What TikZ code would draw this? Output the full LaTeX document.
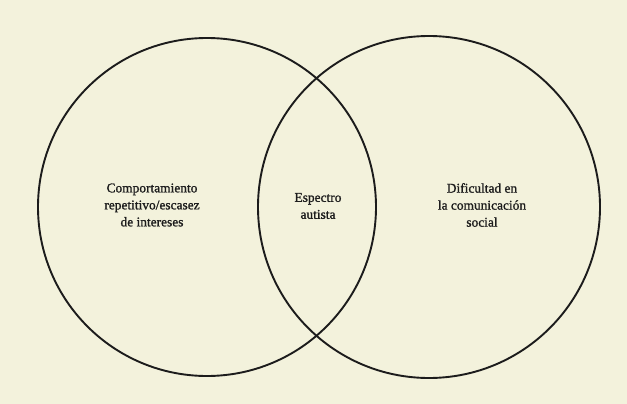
\documentclass[tikz,border=0pt]{standalone}
\usepackage{fontspec}
\setmainfont[FakeBold=1.2]{Liberation Serif}
\definecolor{paper}{HTML}{F3F2DC}
\definecolor{ink}{HTML}{1C1C1C}
\tikzset{
  setcircle/.style={draw=ink, line width=1.9pt},
  label/.style={align=center, text=ink, font=\fontsize{13.4}{17}\selectfont, inner sep=0pt}
}
\begin{document}
\begin{tikzpicture}[x=1pt,y=-1pt]
  \fill[paper] (0,0) rectangle (627,404);
  \useasboundingbox (0,0) rectangle (627,404);
  \node[setcircle, circle, minimum size=338pt, inner sep=0pt] (left) at (207,207) {};
  \node[setcircle, circle, minimum size=342pt, inner sep=0pt] (right) at (429,207) {};
  \node[label] (rep) at (152,205) {Comportamiento\\repetitivo/escasez\\de intereses};
  \node[label] (asd) at (318,206) {Espectro\\autista};
  \node[label] (com) at (482,205) {Dificultad en\\la comunicación\\social};
\end{tikzpicture}
\end{document}
